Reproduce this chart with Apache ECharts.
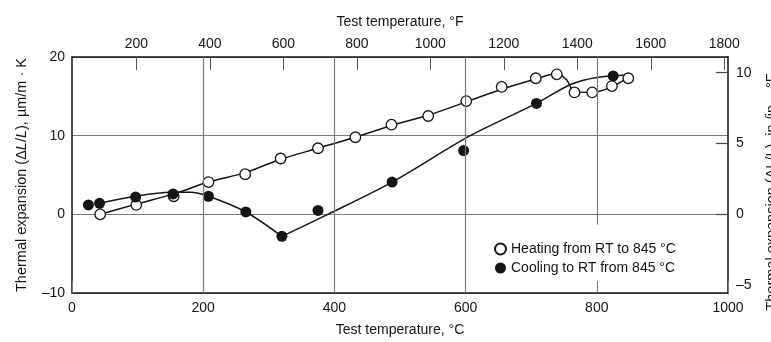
<!DOCTYPE html>
<html>
<head>
<meta charset="utf-8">
<script src="https://cdn.jsdelivr.net/npm/echarts@6/dist/echarts.min.js"></script>
<style>
  html, body { margin: 0; padding: 0; background: #fff; }
  #chart { width: 771px; height: 342px; }
</style>
</head>
<body>
<div id="chart"></div>
<script>
// Measured points, heating run (open circles): temperature in °C, expansion in µm/m·K
const heatingTemp = [43, 98, 155, 208, 264, 318, 375, 432, 487, 543, 601, 655, 707, 739, 766, 793, 823, 848];
const heatingExp  = [0, 1.2, 2.3, 4.1, 5.1, 7.1, 8.4, 9.8, 11.4, 12.5, 14.4, 16.2, 17.3, 17.8, 15.5, 15.5, 16.3, 17.3];

// Measured points, cooling run (filled circles)
const coolingTemp = [25, 42, 97, 154, 208, 265, 320, 375, 488, 597, 708, 825];
const coolingExp  = [1.2, 1.4, 2.2, 2.6, 2.3, 0.3, -2.8, 0.5, 4.1, 8.1, 14.1, 17.6];

// Faired curves drawn through the measurements
const heatingCurveTemp = [43, 98, 155, 208, 264, 318, 375, 432, 487, 543, 601, 655, 707, 739, 754, 766, 793, 823, 848];
const heatingCurveExp  = [0, 1.3, 2.6, 4.1, 5.3, 7.0, 8.4, 9.8, 11.3, 12.6, 14.3, 15.9, 17.2, 17.9, 17.1, 15.6, 15.5, 16.2, 17.4];

const coolingLowTemp  = [42, 97, 150, 180, 208, 265, 320];
const coolingLowExp   = [1.4, 2.3, 2.8, 2.8, 2.3, 0.3, -2.8];
const coolingHighTemp = [320, 390, 488, 607, 708, 760, 800, 850];
const coolingHighExp  = [-2.8, 0, 4.1, 10, 14.1, 16.5, 17.4, 17.7];

// Axis tick labels
const fahrenheitTicks = [200, 400, 600, 800, 1000, 1200, 1400, 1600, 1800];
const rightTicks      = [-5, 0, 5, 10];
const rightTickMarks  = [0, 5, 10];
const gridTemps       = [200, 400, 600];

const FONT = 'Liberation Sans';
const INK = '#151515';
const GRID = '#7a7a7a';

const zip = (xs, ys) => xs.map((x, i) => [x, ys[i]]);
const plain = v => String(v).replace('-', '\u2013');

const chart = echarts.init(document.getElementById('chart'), null, { renderer: 'canvas' });

chart.setOption({
  animation: false,
  backgroundColor: '#fff',
  textStyle: { fontFamily: FONT, color: INK },
  grid: { left: 72, right: 43, top: 57, bottom: 49, containLabel: false },
  xAxis: [
    {
      type: 'value', position: 'bottom', min: 0, max: 1000, interval: 200,
      name: 'Test temperature, \u00b0C', nameLocation: 'middle', nameGap: 30,
      nameTextStyle: { fontFamily: FONT, fontSize: 14, color: INK },
      axisLine: { show: true, onZero: false, lineStyle: { color: INK, width: 1.5 } },
      axisTick: { show: true, inside: true, length: 12, lineStyle: { color: GRID, width: 1 } },
      axisLabel: { fontFamily: FONT, fontSize: 14, color: INK, margin: 8, formatter: plain },
      splitLine: { show: false }
    },
    {
      type: 'value', position: 'top', min: 25, max: 1810,
      name: 'Test temperature, \u00b0F', nameLocation: 'middle', nameGap: 28,
      nameTextStyle: { fontFamily: FONT, fontSize: 14, color: INK },
      axisLine: { show: true, onZero: false, lineStyle: { color: INK, width: 1.5 } },
      axisTick: { show: true, inside: true, length: 13, customValues: fahrenheitTicks, lineStyle: { color: '#555', width: 1 } },
      axisLabel: { fontFamily: FONT, fontSize: 14, color: INK, margin: 6, customValues: fahrenheitTicks, formatter: plain },
      splitLine: { show: false }
    }
  ],
  yAxis: [
    {
      type: 'value', position: 'left', min: -10, max: 20, interval: 10,
      name: 'Thermal expansion (\u0394{i|L}/{i|L}), \u00b5m/m \u00b7 K',
      nameLocation: 'middle', nameGap: 43, nameRotate: 90,
      nameTextStyle: { fontFamily: FONT, fontSize: 14.5, color: INK,
        rich: { i: { fontFamily: FONT, fontSize: 14.5, fontStyle: 'italic', color: INK } } },
      axisLine: { show: true, onZero: false, lineStyle: { color: INK, width: 1.5 } },
      axisTick: { show: false },
      axisLabel: { fontFamily: FONT, fontSize: 14, color: INK, margin: 7, formatter: plain },
      splitLine: { show: true, lineStyle: { color: GRID, width: 1.2 } }
    },
    {
      // in./in.·°F scale: 1 µin./in.·°F = 1.8 µm/m·K
      type: 'value', position: 'right', min: -10 / 1.8, max: 20 / 1.8,
      axisLine: { show: true, onZero: false, lineStyle: { color: INK, width: 1.5 } },
      axisTick: { show: true, inside: true, length: 12, customValues: rightTickMarks, lineStyle: { color: '#444', width: 1.2 } },
      axisLabel: { fontFamily: FONT, fontSize: 14, color: INK, margin: 8, customValues: rightTicks, formatter: plain },
      splitLine: { show: false }
    }
  ],
  legend: {
    orient: 'vertical', left: 489, top: 237,
    itemWidth: 11, itemHeight: 11, itemGap: 5,
    icon: 'circle',
    textStyle: { fontFamily: FONT, fontSize: 14, color: INK },
    data: ['Heating from RT to 845 \u00b0C', 'Cooling to RT from 845 \u00b0C']
  },
  graphic: [
    {
      type: 'text', x: 772, y: 192, rotation: Math.PI / 2,
      style: {
        text: 'Thermal expansion (\u0394L/L), in./in. \u00b7 \u00b0F',
        fontFamily: FONT, fontSize: 14.5, fill: INK,
        align: 'center', verticalAlign: 'middle'
      }
    }
  ],
  series: [
    {
      // vertical temperature gridlines; the 800 °C line stops above the legend
      type: 'line', xAxisIndex: 0, yAxisIndex: 0, data: [], silent: true,
      markLine: {
        silent: true, symbol: 'none', label: { show: false },
        lineStyle: { color: GRID, width: 1.2, type: 'solid' },
        data: gridTemps.map(t => ({ xAxis: t })).concat([[{ coord: [800, 20] }, { coord: [800, -1.3] }]])
      }
    },
    {
      type: 'line', data: zip(heatingCurveTemp, heatingCurveExp), smooth: 0.3,
      showSymbol: false, silent: true, z: 2,
      lineStyle: { color: INK, width: 1.5 }
    },
    {
      type: 'line', data: zip(coolingLowTemp, coolingLowExp), smooth: 0.3,
      showSymbol: false, silent: true, z: 2,
      lineStyle: { color: INK, width: 1.5 }
    },
    {
      type: 'line', data: zip(coolingHighTemp, coolingHighExp), smooth: 0.3,
      showSymbol: false, silent: true, z: 2,
      lineStyle: { color: INK, width: 1.5 }
    },
    {
      name: 'Heating from RT to 845 \u00b0C', type: 'scatter',
      data: zip(heatingTemp, heatingExp), symbol: 'circle', symbolSize: 10.5, z: 4,
      itemStyle: { color: '#fff', borderColor: INK, borderWidth: 1.3, opacity: 1 }
    },
    {
      name: 'Cooling to RT from 845 \u00b0C', type: 'scatter',
      data: zip(coolingTemp, coolingExp), symbol: 'circle', symbolSize: 11, z: 4,
      itemStyle: { color: INK, borderColor: INK, borderWidth: 0, opacity: 1 }
    }
  ]
});
</script>
</body>
</html>
